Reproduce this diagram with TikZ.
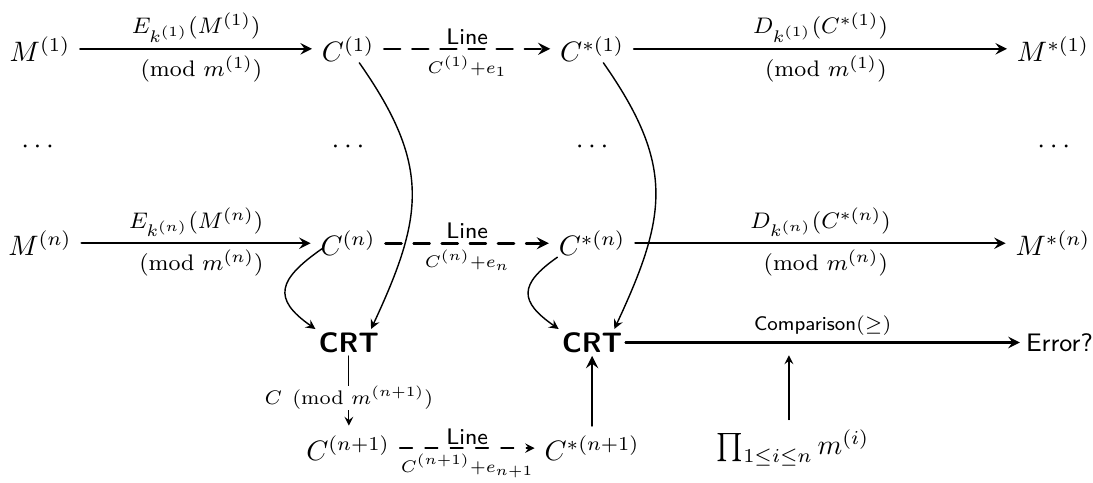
\documentclass[tikz,border=0pt]{standalone}
\usepackage{amsmath,amssymb}
\usetikzlibrary{arrows}
\tikzset{
  lab/.style={font=\footnotesize,inner sep=2pt},
  map/.style={->,line width=0.8pt},
  lineto/.style={->,line width=0.9pt,dash pattern=on 5.7pt off 4.3pt},
  curvy/.style={->,line width=0.5pt},
  crt/.style={font=\sffamily\bfseries,inner sep=1pt}
}
\begin{document}
\begin{tikzpicture}[line join=round,line cap=round,>=stealth]
\useasboundingbox (0,0) rectangle (13.66,-6.03);
\path
(0.50,-0.61) node (M1) {$M^{(1)}$}
(4.35,-0.61) node (C1) {$C^{(1)}$}
(7.40,-0.61) node (Cs1) {$C^{*(1)}$}
(13.16,-0.61) node (Ms1) {$M^{*(1)}$}
(0.50,-1.84) node (d1) {$\cdots$}
(4.38,-1.84) node (d2) {$\cdots$}
(7.43,-1.84) node (d3) {$\cdots$}
(13.20,-1.84) node (d4) {$\cdots$}
(0.50,-3.04) node (Mn) {$M^{(n)}$}
(4.35,-3.04) node (Cn) {$C^{(n)}$}
(7.40,-3.04) node (Csn) {$C^{*(n)}$}
(13.16,-3.04) node (Msn) {$M^{*(n)}$}
(4.36,-4.28) node[crt] (crtA) {CRT}
(7.40,-4.28) node[crt] (crtB) {CRT}
(13.24,-4.28) node[font=\small\sffamily,inner sep=2pt] (err) {Error?}
(4.35,-5.60) node (Cn1) {$C^{(n+1)}$}
(7.40,-5.60) node (Csn1) {$C^{*(n+1)}$}
(9.91,-5.60) node (prod) {$\prod_{1\leq i\leq n} m^{(i)}$}
(9.86,-4.44) coordinate (cmp)
;
% encryption and decryption
\draw[map] (M1) -- (C1)
  node[midway,above,lab] {$E_{k^{(1)}}(M^{(1)})$}
  node[midway,below,lab] {$\pmod{m^{(1)}}$};
\draw[map] (Mn) -- (Cn)
  node[midway,above,lab] {$E_{k^{(n)}}(M^{(n)})$}
  node[midway,below,lab] {$\pmod{m^{(n)}}$};
\draw[map] (Cs1) -- (Ms1)
  node[midway,above,lab] {$D_{k^{(1)}}(C^{*(1)})$}
  node[midway,below,lab] {$\pmod{m^{(1)}}$};
\draw[map] (Csn) -- (Msn)
  node[midway,above,lab] {$D_{k^{(n)}}(C^{*(n)})$}
  node[midway,below,lab] {$\pmod{m^{(n)}}$};
% the line
\draw[lineto] (C1) -- (Cs1)
  node[midway,above,lab,font=\footnotesize\sffamily,inner sep=1pt] {Line}
  node[midway,below,lab,font=\footnotesize] {$\scriptstyle C^{(1)}+e_1$};
\draw[lineto] (Cn) -- (Csn)
  node[midway,above,lab,font=\footnotesize\sffamily,inner sep=1pt] {Line}
  node[midway,below,lab,font=\footnotesize] {$\scriptstyle C^{(n)}+e_n$};
\draw[lineto,line width=0.5pt,dash pattern=on 4.5pt off 4.5pt] (Cn1) -- (Csn1)
  node[midway,above,lab,font=\footnotesize\sffamily,inner sep=1pt] {Line}
  node[midway,below,lab,font=\footnotesize] {$\scriptstyle C^{(n+1)}+e_{n+1}$};
% into the CRT
\draw[curvy] ([xshift=4pt,yshift=3pt]C1.south) to[out=-55,in=65,looseness=1.2] ([xshift=-4pt]crtA.north east);
\draw[curvy] ([xshift=4pt,yshift=6pt]Cn.south west) to[out=-145,in=145,looseness=1.7] (crtA.north west);
\draw[curvy] ([xshift=4pt,yshift=3pt]Cs1.south) to[out=-55,in=65,looseness=1.2] ([xshift=-4pt]crtB.north east);
\draw[curvy] ([xshift=3pt,yshift=3pt]Csn.south west) to[out=-145,in=145,looseness=1.7] (crtB.north west);
\draw[->,line width=0.4pt] (crtA) -- (crtA |- Cn1.north)
  node[pos=0.6,fill=white,font=\scriptsize,inner sep=0pt] {$C \pmod{m^{(n+1)}}$};
\draw[->,line width=0.9pt] (Csn1.north) -- (Csn1.north |- crtB.south);
% comparison
\draw[map] (crtB) -- (err)
  node[midway,above,lab,font=\scriptsize] {\textsf{Comparison}$(\geq)$};
\draw[->,line width=0.4pt] (prod.north -| cmp) -- (cmp);
\end{tikzpicture}
\end{document}
